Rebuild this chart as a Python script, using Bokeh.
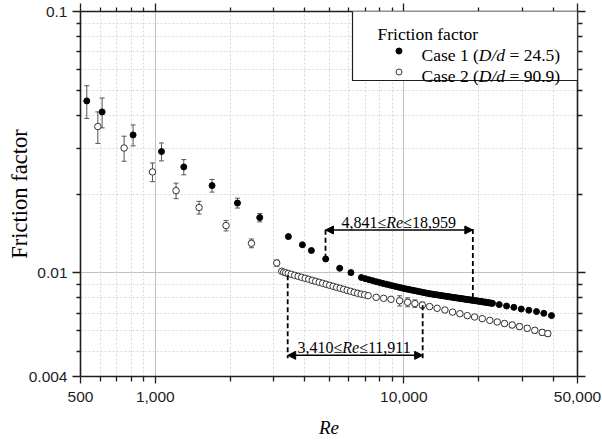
from bokeh.plotting import figure
from bokeh.models import (Range1d, FixedTicker, NumeralTickFormatter, LogAxis,
                          ColumnDataSource, Whisker, TeeHead, Arrow, NormalHead,
                          Label, BoxAnnotation, Legend, LegendItem, CustomJSTickFormatter)
from bokeh.core.properties import value
from bokeh.embed import file_html
from bokeh.resources import INLINE

# ---------------- data ----------------
# Case 1 (D/d = 24.5) : filled markers
re1 = [530, 611, 814, 1059, 1302, 1692, 2141, 2632, 3433, 3908, 4247, 4849, 5520, 6127,
       6750, 7000, 7250, 7500, 7750, 8000, 8250, 8500, 8750, 9000,
       9250, 9500, 9750, 10000, 10250, 10500, 10750, 11000, 11250, 11500,
       11750, 12000, 12250, 12500, 12750, 13000, 13250, 13500, 13750, 14000,
       14250, 14500, 14750, 15000, 15250, 15500, 15750, 16000, 16250, 16500,
       16750, 17000, 17250, 17500, 17750, 18000, 18250, 18500, 18750, 19000,
       19250, 19500, 19750, 20000, 20250, 20500, 20750, 21000, 21250, 21500,
       21750, 22000, 22250, 22500, 22750,
       24210, 25910, 27720, 29690, 31840, 34200, 36590, 39290]
f1 = [0.04545, 0.04124, 0.03367, 0.02908, 0.02539, 0.02154, 0.01847, 0.01624, 0.01374,
      0.01278, 0.01215, 0.01128, 0.01039, 0.01000,
      0.009575, 0.009482, 0.009394, 0.009310, 0.009229, 0.009154, 0.009089, 0.009027, 0.008967, 0.008909,
      0.008853, 0.008798, 0.008746, 0.008695, 0.008654, 0.008613, 0.008573, 0.008535, 0.008498, 0.008461,
      0.008426, 0.008391, 0.008358, 0.008325, 0.008297, 0.008273, 0.008250, 0.008227, 0.008204, 0.008182,
      0.008160, 0.008139, 0.008118, 0.008098, 0.008078, 0.008058, 0.008039, 0.008020, 0.008003, 0.007986,
      0.007969, 0.007953, 0.007936, 0.007920, 0.007905, 0.007889, 0.007874, 0.007859, 0.007844, 0.007830,
      0.007815, 0.007801, 0.007787, 0.007774, 0.007759, 0.007745, 0.007731, 0.007717, 0.007703, 0.007689,
      0.007676, 0.007663, 0.007650, 0.007637, 0.007625,
      0.007540, 0.007447, 0.007362, 0.007253, 0.007171, 0.007089, 0.006984, 0.006843]
# error of the first points of case 1
err1 = [0.0065, 0.0054, 0.0031, 0.0023, 0.0017, 0.0012, 0.0008, 0.0006]

# Case 2 (D/d = 90.9) : open markers
re2 = [587, 749, 974, 1212, 1500, 1926, 2437, 3080,
       3227, 3287, 3348, 3426, 3523, 3638, 3758, 3882, 4010, 4142, 4279, 4419, 4565, 4716,
       4871, 5031, 5195, 5368, 5545, 5728, 5916, 6111, 6313, 6521, 6734, 6956, 7187,
       7739, 8295, 8875, 9619, 10358, 11082, 11871, 12698, 13612, 14636, 15715, 16811,
       18001, 19265, 20690, 22191, 23768, 25430, 27307, 29214, 31380, 33660, 36060, 37970]
f2 = [0.03625, 0.0300, 0.0243, 0.0206, 0.01775, 0.01514, 0.01295, 0.01088,
      0.01012, 0.01004, 0.00998, 0.00992, 0.00985, 0.00976, 0.00968, 0.00959, 0.00951, 0.00943,
      0.00934, 0.00926, 0.00918, 0.00910, 0.00902, 0.00894, 0.00886, 0.00878, 0.00871, 0.00863,
      0.00855, 0.00848, 0.00840, 0.00833, 0.00827, 0.00822, 0.00816,
      0.00804, 0.00797, 0.00790, 0.00780, 0.00770, 0.00761, 0.00751, 0.00741, 0.00730, 0.00719,
      0.00706, 0.00696, 0.00684, 0.00676, 0.00666, 0.00656, 0.00647, 0.00638, 0.00630, 0.00621,
      0.00612, 0.00601, 0.00590, 0.00584]
err2 = [0.0050, 0.0033, 0.0020, 0.0014, 0.0010, 0.0007, 0.0005, 0.0003,
        0, 0, 0, 0, 0, 0, 0, 0, 0, 0, 0, 0, 0, 0, 0, 0, 0, 0, 0, 0, 0, 0, 0, 0, 0, 0, 0,
        0, 0, 0, 0.00035, 0.0003, 0.00025, 0.0002, 0, 0, 0, 0, 0, 0, 0, 0, 0, 0,
        0.00015, 0.00015, 0.00015, 0.00015, 0.00015, 0.00015, 0.00015]

# axes ticks
x_major = [500, 1000, 10000, 50000]
x_minor = [600, 700, 800, 900, 2000, 3000, 4000, 5000, 6000, 7000, 8000, 9000,
           20000, 30000, 40000]
y_major = [0.004, 0.01, 0.1]
y_minor = [0.005, 0.006, 0.007, 0.008, 0.009, 0.02, 0.03, 0.04, 0.05, 0.06, 0.07, 0.08, 0.09]
x_grid_major = [1000, 10000]
y_grid_major = [0.01]

# Re ranges annotated
range_lo = [4841, 3410]
range_hi = [18959, 11911]
range_left_txt = ["4,841\u2264", "3,410\u2264"]
range_right_txt = ["\u226418,959", "\u226411,911"]
arrow_f = [0.01456, 0.00482]
range_text_f = [0.01558, 0.00516]
dash_re = [4841, 18959, 3410, 11911]
dash_f0 = [0.01130, 0.00800, 0.00976, 0.00750]
dash_f1 = [0.01474, 0.01474, 0.00470, 0.00466]

# ---------------- figure ----------------
SERIF = "Liberation Serif"
SANS = "Liberation Sans"
INK = "#1e1e1e"

p = figure(width=602, height=440, x_axis_type="log", y_axis_type="log",
           x_range=Range1d(500, 50000), y_range=Range1d(0.004, 0.1),
           output_backend="svg", toolbar_location=None,
           min_border_left=80, min_border_right=25, min_border_top=11, min_border_bottom=63)
p.outline_line_color = None
p.background_fill_color = "white"
p.border_fill_color = "white"


def style_axis(ax, ticks, minor, major_out, minor_out):
    ax.ticker = FixedTicker(ticks=ticks, minor_ticks=minor)
    ax.axis_line_color = INK
    ax.axis_line_width = 1.6
    ax.major_tick_line_color = INK
    ax.minor_tick_line_color = INK
    ax.major_tick_line_width = 1.3
    ax.minor_tick_line_width = 1.3
    ax.major_tick_out = major_out
    ax.major_tick_in = 0
    ax.minor_tick_out = minor_out
    ax.minor_tick_in = 0
    ax.major_label_text_font = SANS
    ax.major_label_text_font_size = "15.5px"
    ax.major_label_text_color = INK


bottom = p.below[0]
style_axis(bottom, x_major, x_minor, 7, 5)
bottom.formatter = NumeralTickFormatter(format="0,0")
bottom.major_label_standoff = 8
bottom.axis_label = "Re"
bottom.axis_label_text_font = SERIF
bottom.axis_label_text_font_style = "italic"
bottom.axis_label_text_font_size = "19px"
bottom.axis_label_text_color = "black"
bottom.axis_label_standoff = 12

left = p.left[0]
style_axis(left, y_major, y_minor, 8, 4)
left.formatter = NumeralTickFormatter(format="0.[000]")
left.major_label_standoff = 5
left.axis_label = "Friction factor"
left.axis_label_text_font = SERIF
left.axis_label_text_font_style = "normal"
left.axis_label_text_font_size = "22.5px"
left.axis_label_text_color = "black"
left.axis_label_standoff = -6

blank = CustomJSTickFormatter(code="return ''")
top = LogAxis()
style_axis(top, x_major, x_minor, 8, 4)
top.formatter = blank
top.major_label_text_font_size = "1px"
top.major_label_standoff = 0
p.add_layout(top, "above")

right = LogAxis()
style_axis(right, y_major, y_minor, 8, 5)
right.formatter = blank
right.major_label_text_font_size = "1px"
right.major_label_standoff = 0
p.add_layout(right, "right")

for g, major, minor in ((p.xgrid[0], x_grid_major, x_minor), (p.ygrid[0], y_grid_major, y_minor)):
    g.ticker = FixedTicker(ticks=major, minor_ticks=minor)
    g.grid_line_color = "#c2c2c2"
    g.grid_line_width = 1
    g.minor_grid_line_color = "#d9d9d9"
    g.minor_grid_line_dash = "2 2"
    g.minor_grid_line_width = 1

# error bars
n1 = len(err1)
wb1 = ColumnDataSource(dict(x=re1[:n1],
                            u=[f + e for f, e in zip(f1[:n1], err1)],
                            l=[f - e for f, e in zip(f1[:n1], err1)]))
idx2 = [i for i, e in enumerate(err2) if e > 0]
wb2 = ColumnDataSource(dict(x=[re2[i] for i in idx2],
                            u=[f2[i] + err2[i] for i in idx2],
                            l=[f2[i] - err2[i] for i in idx2]))
for src in (wb2, wb1):
    w = Whisker(base="x", upper="u", lower="l", source=src, dimension="height",
                line_color="#555555", line_width=1, level="underlay",
                upper_head=TeeHead(size=5, line_color="#555555", line_width=1),
                lower_head=TeeHead(size=5, line_color="#555555", line_width=1))
    p.add_layout(w)

src1 = ColumnDataSource(dict(x=re1, y=f1))
src2 = ColumnDataSource(dict(x=re2, y=f2))
r2 = p.scatter("x", "y", source=src2, marker="circle", size=6.5,
               fill_color="white", line_color="#333333", line_width=1)
r1 = p.scatter("x", "y", source=src1, marker="circle", size=6,
               fill_color="black", line_color="black", line_width=1)

# dashed range markers
p.segment(x0=dash_re, y0=dash_f0, x1=dash_re, y1=dash_f1,
          line_color="black", line_width=1.8, line_dash="5 3")

arr_src = ColumnDataSource(dict(x0=range_lo, x1=range_hi, y=arrow_f))
p.add_layout(Arrow(x_start="x0", y_start="y", x_end="x1", y_end="y", source=arr_src,
                   line_color="black", line_width=1.5,
                   start=NormalHead(size=8, fill_color="black", line_color="black", line_width=1),
                   end=NormalHead(size=8, fill_color="black", line_color="black", line_width=1)))

for lo, hi, lt, rt, fy in zip(range_lo, range_hi, range_left_txt, range_right_txt, range_text_f):
    xc = (lo * hi) ** 0.5
    common = dict(x=xc, y=fy, text_font=SERIF, text_font_size="16px",
                  text_baseline="alphabetic", text_color="black")
    p.add_layout(Label(text=lt, text_align="right", x_offset=-4.5 - 8.45, **common))
    p.add_layout(Label(text="Re", text_align="center", x_offset=-4.5,
                       text_font_style="italic", **common))
    p.add_layout(Label(text=rt, text_align="left", x_offset=-4.5 + 8.45, **common))

# legend box (screen units relative to the frame)
p.add_layout(BoxAnnotation(left=272, right=497, bottom=296, top=366,
                           left_units="screen", right_units="screen",
                           bottom_units="screen", top_units="screen",
                           fill_color="white", fill_alpha=1,
                           line_color=INK, line_width=1.2, line_alpha=1))
leg = Legend(items=[LegendItem(label=value(""), renderers=[r1]),
                    LegendItem(label=value(""), renderers=[r2])],
             location=(310.8, 297.5), orientation="vertical", padding=0, margin=0,
             spacing=6, glyph_width=15, glyph_height=15, label_height=15,
             label_width=1, label_standoff=0, label_text_font_size="1px",
             border_line_color=None, background_fill_alpha=0)
p.add_layout(leg, "center")

LF = "17.5px"
p.add_layout(Label(x=297, y=342.5, x_units="screen", y_units="screen",
                   text="Friction factor", text_font=SERIF, text_font_size=LF,
                   text_baseline="alphabetic", text_color="black"))
for case, txt, yb in (("Case 1 (", "24.5", 321.5), ("Case 2 (", "90.9", 300.5)):
    base = dict(y=yb, x_units="screen", y_units="screen", text_font=SERIF,
                text_font_size=LF, text_baseline="alphabetic", text_color="black")
    p.add_layout(Label(x=341, text=case, **base))
    p.add_layout(Label(x=341 + 57.35, text="D/d", text_font_style="italic", **base))
    p.add_layout(Label(x=341 + 57.35 + 26.25 + 4.4, text="= " + txt + ")", **base))

open("out.html", "w").write(file_html(p, INLINE))
